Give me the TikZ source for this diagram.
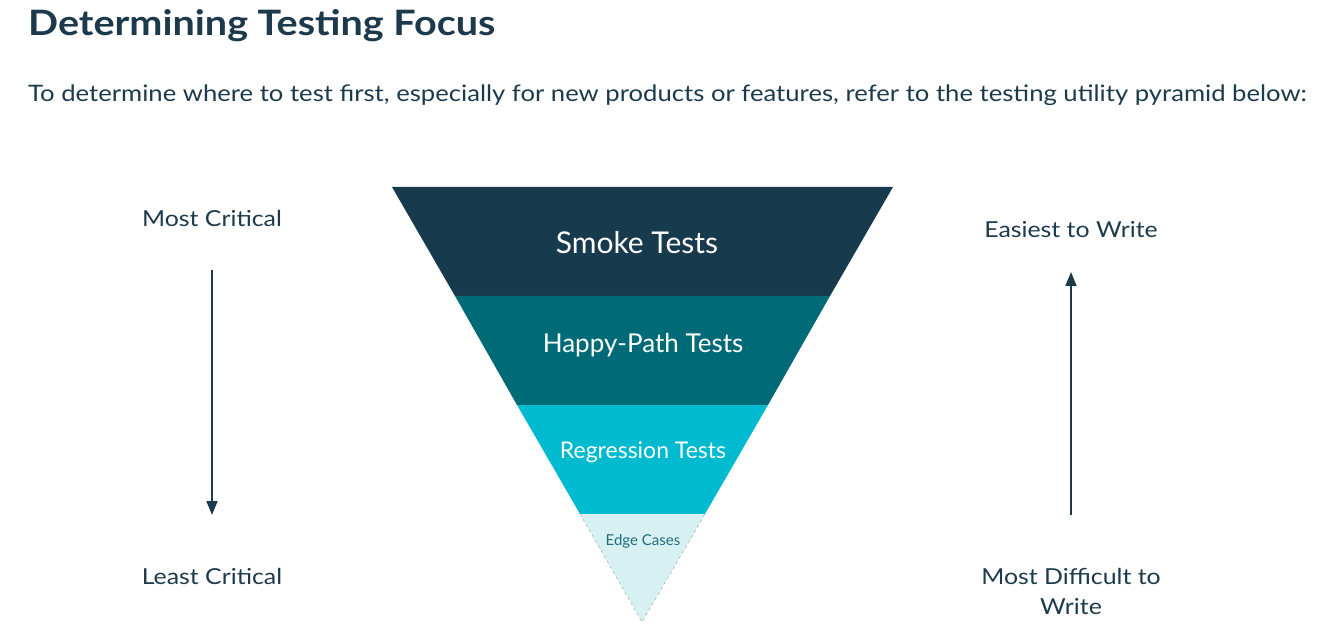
\documentclass[tikz,border=0pt]{standalone}
\usepackage{fontspec}
\setmainfont[FakeStretch=1.13]{Lato}
\newfontfamily\pyrfont{Lato}
\usetikzlibrary{arrows.meta}
\definecolor{ink}{HTML}{1D3A4C}
\definecolor{smoke}{HTML}{183A4D}
\definecolor{happy}{HTML}{006B77}
\definecolor{regress}{HTML}{00BBCF}
\definecolor{edge}{HTML}{D7F1F3}
\definecolor{edgetext}{HTML}{236C7A}
\newcommand{\fsz}[1]{\fontsize{#1}{#1}\selectfont}
\begin{document}
\begin{tikzpicture}[x=1pt, y=1pt]
\tikzstyle{every node}=[inner sep=0pt, text=ink]
\tikzstyle{side}=[font=\fsz{22}, align=center]
\tikzstyle{band}=[text=white]
\tikzstyle{flow}=[ink, line width=1.8pt, -{Triangle[length=14pt,width=11pt]}]
\useasboundingbox (0,0) rectangle (1320,-644);
% heading
\draw (28,-26) node[anchor=west, font=\fsz{35}\bfseries] (title) {Determining Testing Focus};
\draw (28,-95) node[anchor=west, font=\fsz{22.7}] (intro) {To determine where to test first, especially for new products or features, refer to the testing utility pyramid below:};
% pyramid bands
\fill [smoke] (392,-187) -- (893,-187) -- (830,-296) -- (455,-296) -- cycle;
\fill [happy] (455,-296) -- (830,-296) -- (768,-405) -- (517,-405) -- cycle;
\fill [regress] (517,-405) -- (768,-405) -- (705,-514) -- (580,-514) -- cycle;
\fill [edge] (580,-514) -- (705,-514) -- (642,-622) -- cycle;
\draw [gray!60, dashed, line width=0.6pt] (580,-514) -- (642,-622) -- (705,-514);
\draw (637,-243) node[band, font=\pyrfont\fsz{30}] (smk) {Smoke Tests};
\draw (643,-345) node[band, font=\pyrfont\fsz{26}] (hpy) {Happy-Path Tests};
\draw (643,-452) node[band, font=\pyrfont\fsz{23}] (reg) {Regression Tests};
\draw (643,-541) node[text=edgetext, font=\pyrfont\fsz{15}] (edg) {Edge Cases};
% left side
\draw (212,-218) node[side] (most) {Most Critical};
\draw (212,-576) node[side] (least) {Least Critical};
\coordinate (ltop) at (212,-270);
\coordinate (lbot) at (212,-515);
\draw [flow] (ltop) -- (lbot);
% right side
\draw (1071,-230) node[side] (easy) {Easiest to Write};
\draw (1071,-591) node[side] (hard) {Most Difficult to\\[8pt]Write};
\coordinate (rbot) at (1071,-515);
\coordinate (rtop) at (1071,-272);
\draw [flow] (rbot) -- (rtop);
\end{tikzpicture}
\end{document}
